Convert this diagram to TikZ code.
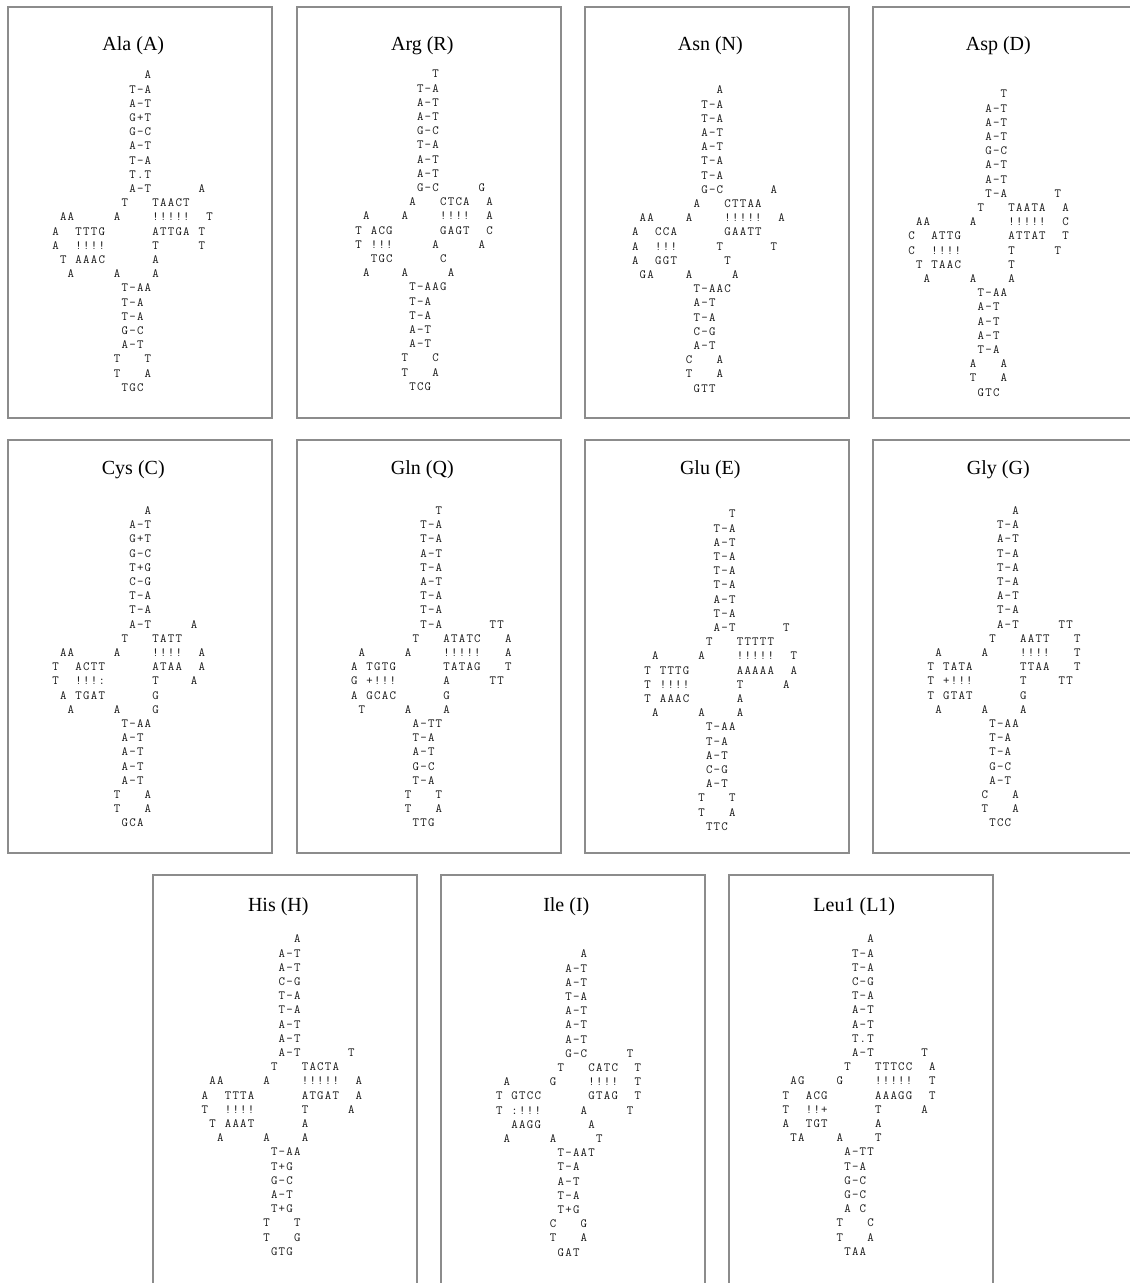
\documentclass[tikz,border=0pt]{standalone}
\usepackage{fontspec}
\setmainfont{Liberation Serif}
\newdimen\cw \cw=7.7pt
\newcommand\rl[1]{\hbox{\rlgo#1\relax}}
\def\rlgo#1{\ifx\relax#1\else\rlone#1\expandafter\rlgo\fi}
\def\rlone#1{\ifnum`#1>47 \ifnum`#1<58 \hskip#1\cw\relax\else\rlbox{#1}\fi\else\rlbox{#1}\fi}
\def\rlbox#1{\hbox to\cw{\hss#1\hss}}
\newcommand\rows[1]{\vtop{\baselineskip=14.2pt\lineskiplimit=-100pt\lineskip=0pt\relax #1}}
\tikzset{
 frame/.style={draw=black!45, line width=1.6pt},
 ttl/.style={font=\fontsize{20pt}{24pt}\selectfont, anchor=base, inner sep=0pt},
 struct/.style={font=\ttfamily\fontsize{12.5pt}{14.2pt}\selectfont, anchor=base west, inner sep=0pt, text=black!90},
}
\begin{document}
\begin{tikzpicture}[x=1pt,y=-1pt]
\useasboundingbox (0,0) rectangle (1130,1283);
\fill[white] (0,0) rectangle (1130,1283);
\clip (0,0) rectangle (1130,1283);
% frames
\draw[frame] (8,7) rectangle (272,418);
\draw[frame] (297,7) rectangle (561,418);
\draw[frame] (585,7) rectangle (849,418);
\draw[frame] (873,7) rectangle (1137,418);
\draw[frame] (8,440) rectangle (272,853);
\draw[frame] (297,440) rectangle (561,853);
\draw[frame] (585,440) rectangle (849,853);
\draw[frame] (873,440) rectangle (1137,853);
\draw[frame] (153,875) rectangle (417,1295);
\draw[frame] (441,875) rectangle (705,1295);
\draw[frame] (729,875) rectangle (993,1295);
% titles
\node[ttl] (tAla) at (133.3,50) {Ala (A)};
\node[ttl] (tArg) at (422.3,50) {Arg (R)};
\node[ttl] (tAsn) at (710.3,50) {Asn (N)};
\node[ttl] (tAsp) at (998.3,50) {Asp (D)};
\node[ttl] (tCys) at (133.3,474) {Cys (C)};
\node[ttl] (tGln) at (422.3,474) {Gln (Q)};
\node[ttl] (tGlu) at (710.3,474) {Glu (E)};
\node[ttl] (tGly) at (998.3,474) {Gly (G)};
\node[ttl] (tHis) at (278.3,911) {His (H)};
\node[ttl] (tIle) at (566.3,911) {Ile (I)};
\node[ttl] (tLeu) at (854.3,911) {Leu1 (L1)};
% structures
\node[struct] (sAla) at (51.5,78.8) {\rows{%
\rl{93A}\rl{91T-A}\rl{91A-T}\rl{91G+T}\rl{91G-C}\rl{91A-T}\rl{91T-A}\rl{91T.T}
\rl{91A-T6A}\rl{9T3TAACT}\rl{1AA5A4!!!!!2T}\rl{A2TTTG6ATTGA1T}\rl{A2!!!!6T5T}
\rl{1T1AAAC6A}\rl{2A5A4A}\rl{9T-AA}\rl{9T-A}\rl{9T-A}\rl{9G-C}\rl{9A-T}
\rl{8T3T}\rl{8T3A}\rl{9TGC}}};
\node[struct] (sArg) at (339.2,77.8) {\rows{%
\rl{93T}\rl{91T-A}\rl{91A-T}\rl{91A-T}\rl{91G-C}\rl{91T-A}\rl{91A-T}\rl{91A-T}
\rl{91G-C5G}\rl{9A3CTCA2A}\rl{3A4A4!!!!2A}\rl{2T1ACG6GAGT2C}\rl{2T1!!!5A5A}
\rl{4TGC6C}\rl{3A4A5A}\rl{9T-AAG}\rl{9T-A}\rl{9T-A}\rl{9A-T}\rl{9A-T}
\rl{8T3C}\rl{8T3A}\rl{9TCG}}};
\node[struct] (sAsn) at (623.5,93.8) {\rows{%
\rl{93A}\rl{91T-A}\rl{91T-A}\rl{91A-T}\rl{91A-T}\rl{91T-A}\rl{91T-A}
\rl{91G-C6A}\rl{9A3CTTAA}\rl{2AA4A4!!!!!2A}\rl{1A2CCA6GAATT}\rl{1A2!!!5T6T}
\rl{1A2GGT6T}\rl{2GA4A5A}\rl{9T-AAC}\rl{9A-T}\rl{9T-A}\rl{9C-G}\rl{9A-T}
\rl{8C3A}\rl{8T3A}\rl{9GTT}}};
\node[struct] (sAsp) at (907.5,97.8) {\rows{%
\rl{93T}\rl{91A-T}\rl{91A-T}\rl{91A-T}\rl{91G-C}\rl{91A-T}\rl{91A-T}
\rl{91T-A6T}\rl{9T3TAATA2A}\rl{1AA5A4!!!!!2C}\rl{C2ATTG6ATTAT2T}\rl{C2!!!!6T5T}
\rl{1T1TAAC6T}\rl{2A5A4A}\rl{9T-AA}\rl{9A-T}\rl{9A-T}\rl{9A-T}\rl{9T-A}
\rl{8A3A}\rl{8T3A}\rl{9GTC}}};
\node[struct] (sCys) at (51.5,514.5) {\rows{%
\rl{93A}\rl{91A-T}\rl{91G+T}\rl{91G-C}\rl{91T+G}\rl{91C-G}\rl{91T-A}\rl{91T-A}
\rl{91A-T5A}\rl{9T3TATT}\rl{1AA5A4!!!!2A}\rl{T2ACTT6ATAA2A}\rl{T2!!!:6T4A}
\rl{1A1TGAT6G}\rl{2A5A4G}\rl{9T-AA}\rl{9A-T}\rl{9A-T}\rl{9A-T}\rl{9A-T}
\rl{8T3A}\rl{8T3A}\rl{9GCA}}};
\node[struct] (sGln) at (342.5,514.5) {\rows{%
\rl{93T}\rl{91T-A}\rl{91T-A}\rl{91A-T}\rl{91T-A}\rl{91A-T}\rl{91T-A}\rl{91T-A}
\rl{91T-A6TT}\rl{9T3ATATC3A}\rl{2A5A4!!!!!3A}\rl{1A1TGTG6TATAG3T}\rl{1G1+!!!6A5TT}
\rl{1A1GCAC6G}\rl{2T5A4A}\rl{9A-TT}\rl{9T-A}\rl{9A-T}\rl{9G-C}\rl{9T-A}
\rl{8T3T}\rl{8T3A}\rl{9TTG}}};
\node[struct] (sGlu) at (635.9,517.8) {\rows{%
\rl{93T}\rl{91T-A}\rl{91A-T}\rl{91T-A}\rl{91T-A}\rl{91T-A}\rl{91A-T}\rl{91T-A}
\rl{91A-T6T}\rl{9T3TTTTT}\rl{2A5A4!!!!!2T}\rl{1T1TTTG6AAAAA2A}\rl{1T1!!!!6T5A}
\rl{1T1AAAC6A}\rl{2A5A4A}\rl{9T-AA}\rl{9T-A}\rl{9A-T}\rl{9C-G}\rl{9A-T}
\rl{8T3T}\rl{8T3A}\rl{9TTC}}};
\node[struct] (sGly) at (919.2,514.5) {\rows{%
\rl{93A}\rl{91T-A}\rl{91A-T}\rl{91T-A}\rl{91T-A}\rl{91T-A}\rl{91A-T}\rl{91T-A}
\rl{91A-T5TT}\rl{9T3AATT3T}\rl{2A5A4!!!!3T}\rl{1T1TATA6TTAA3T}\rl{1T1+!!!6T4TT}
\rl{1T1GTAT6G}\rl{2A5A4A}\rl{9T-AA}\rl{9T-A}\rl{9T-A}\rl{9G-C}\rl{9A-T}
\rl{8C3A}\rl{8T3A}\rl{9TCC}}};
\node[struct] (sHis) at (200.9,942.8) {\rows{%
\rl{93A}\rl{91A-T}\rl{91A-T}\rl{91C-G}\rl{91T-A}\rl{91T-A}\rl{91A-T}\rl{91A-T}
\rl{91A-T6T}\rl{9T3TACTA}\rl{1AA5A4!!!!!2A}\rl{A2TTTA6ATGAT2A}\rl{T2!!!!6T5A}
\rl{1T1AAAT6A}\rl{2A5A4A}\rl{9T-AA}\rl{9T+G}\rl{9G-C}\rl{9A-T}\rl{9T+G}
\rl{8T3T}\rl{8T3G}\rl{9GTG}}};
\node[struct] (sIle) at (487.5,957.8) {\rows{%
\rl{93A}\rl{91A-T}\rl{91A-T}\rl{91T-A}\rl{91A-T}\rl{91A-T}\rl{91A-T}
\rl{91G-C5T}\rl{9T3CATC2T}\rl{2A5G4!!!!2T}\rl{1T1GTCC6GTAG2T}\rl{1T1:!!!5A5T}
\rl{3AAGG6A}\rl{2A5A5T}\rl{9T-AAT}\rl{9T-A}\rl{9A-T}\rl{9T-A}\rl{9T+G}
\rl{8C3G}\rl{8T3A}\rl{9GAT}}};
\node[struct] (sLeu) at (774.2,942.8) {\rows{%
\rl{93A}\rl{91T-A}\rl{91T-A}\rl{91C-G}\rl{91T-A}\rl{91A-T}\rl{91A-T}\rl{91T.T}
\rl{91A-T6T}\rl{9T3TTTCC2A}\rl{2AG4G4!!!!!2T}\rl{1T2ACG6AAAGG2T}\rl{1T2!!+6T5A}
\rl{1A2TGT6A}\rl{2TA4A4T}\rl{9A-TT}\rl{9T-A}\rl{9G-C}\rl{9G-C}\rl{9A1C}
\rl{8T3C}\rl{8T3A}\rl{9TAA}}};
\end{tikzpicture}
\end{document}
